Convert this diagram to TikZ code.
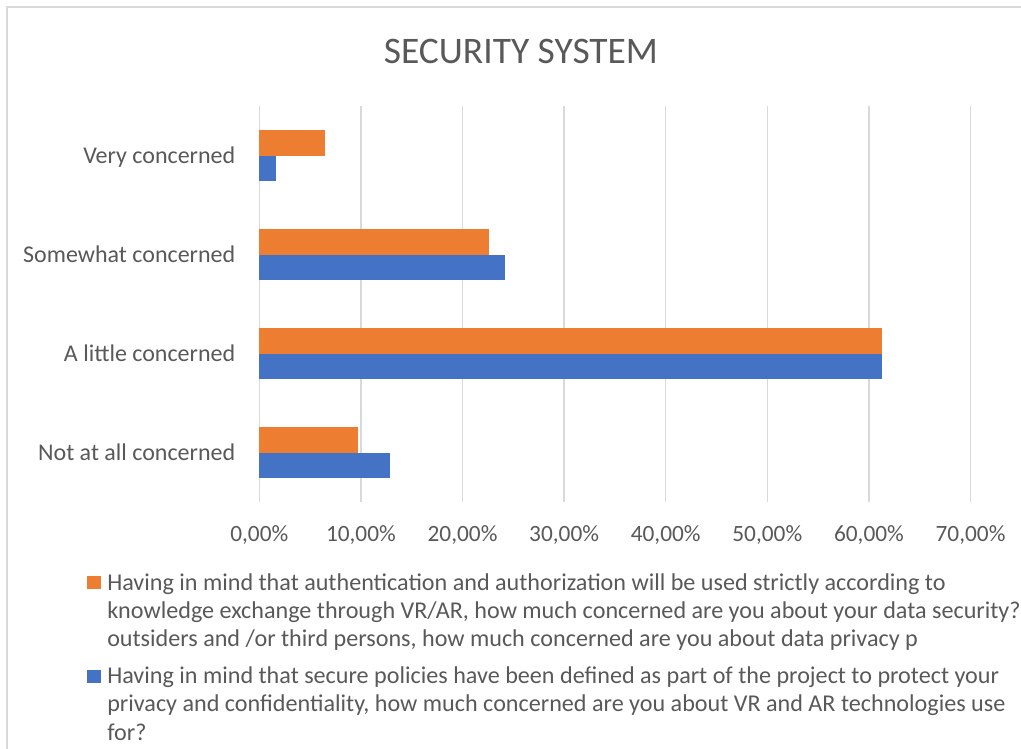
\documentclass[tikz,border=0pt]{standalone}
\usepackage{fontspec}
\setmainfont{Carlito}
\definecolor{txt}{HTML}{595959}
\definecolor{gridc}{HTML}{D9D9D9}
\definecolor{orng}{HTML}{ED7D31}
\definecolor{blu}{HTML}{4472C4}
\tikzset{
  catlabel/.style={anchor=base east, text=txt, inner sep=0pt, font=\fontsize{18}{21}\selectfont},
  ticklabel/.style={anchor=base, text=txt, inner sep=0pt, font=\fontsize{17.5}{21}\selectfont},
  gridline/.style={draw=gridc, line width=1.1pt},
  legtext/.style={anchor=base west, align=left, text=txt, inner sep=0pt, font=\fontsize{18.1}{21.2}\selectfont},
  orangebar/.style={fill=orng},
  bluebar/.style={fill=blu},
}
\begin{document}
\begin{tikzpicture}[x=0.75pt,y=-0.75pt]
\useasboundingbox (0,0) rectangle (1021,749);
\clip (0,0) rectangle (1021,749);
\fill[white] (0,0) rectangle (1021,749);
% frame
\draw[gridc, line width=1.5pt] (7,770) -- (7,7) -- (1040,7);
% title
\node[anchor=base, text=txt, font=\fontsize{28.1}{32}\selectfont, inner sep=0pt] (title) at (521,64) {SECURITY SYSTEM};
% gridlines and tick labels
\foreach \i/\lab in {0/0,1/10,2/20,3/30,4/40,5/50,6/60,7/70}{
  \draw[gridline] ({259.3+101.6*\i},106) -- ({259.3+101.6*\i},502);
  \node[ticklabel] (tick\i) at ({259.3+101.6*\i},541) {\lab,00\%};
}
% bars: orange above, blue below category centre
\foreach \c/\o/\b/\n/\lab in {155.5/6.45/1.61/vc/Very concerned,
                              254.5/22.58/24.19/sc/Somewhat concerned,
                              353.5/61.29/61.29/lc/A little concerned,
                              452.5/9.68/12.90/nc/Not at all concerned}{
  \fill[orangebar] (259.3,\c-25.7) rectangle ({259.3+10.16*\o},\c);
  \fill[bluebar] (259.3,\c) rectangle ({259.3+10.16*\b},\c+25.8);
  \node[catlabel] (cat\n) at (235.5,\c+7.5) {\lab};
}
% legend
\fill[orangebar] (87.3,576) rectangle (100.5,589);
\node[legtext] (leg1) at (107,646.7) {Having in mind that authentication and authorization will be used strictly according to\\knowledge exchange through VR/AR, how much concerned are you about your data security?\\outsiders and /or third persons, how much concerned are you about data privacy p};
\fill[bluebar] (87.3,670) rectangle (100.5,683);
\node[legtext] (leg2) at (107,740) {Having in mind that secure policies have been defined as part of the project to protect your\\privacy and confidentiality, how much concerned are you about VR and AR technologies use\\for?};
\end{tikzpicture}
\end{document}
